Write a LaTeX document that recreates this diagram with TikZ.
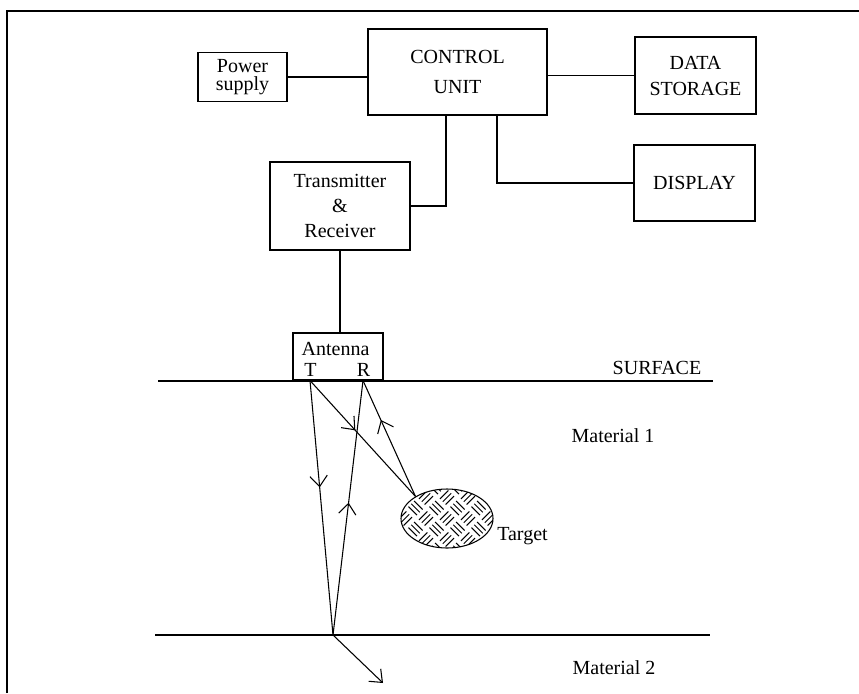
\documentclass[tikz,border=0pt]{standalone}
\usepackage{fontspec}
\setmainfont{Liberation Serif}
\usetikzlibrary{arrows.meta,calc,decorations.markings,shapes.geometric}

\begin{document}
\begin{tikzpicture}[x=0.75pt,y=-0.75pt,
    font=\fontsize{15}{18}\selectfont,
    block/.style={draw, line width=0.8pt, inner sep=0pt, align=center},
    ray/.style={line width=0.8pt},
    barb/.style={-{Straight Barb[length=8pt,width=13pt]}},
    midarrow/.style={postaction={decorate}, decoration={markings,
        mark=at position #1 with {\arrow{Straight Barb[length=8pt,width=13pt]}}}}]
  \useasboundingbox (0,0) rectangle (859,693);
  % frame
  \draw[line width=1pt] (7,693) -- (7,11) -- (859,11);
  % blocks
  \node[block, minimum width=66.75pt, minimum height=36.75pt,
        font=\fontsize{15}{13.5}\selectfont] (power) at (242.5,77) {Power\\supply};
  \node[block, minimum width=134.25pt, minimum height=64.5pt,
        font=\fontsize{15}{22.5}\selectfont] (control) at (457.5,72) {CONTROL\\UNIT};
  \node[block, minimum width=90.75pt, minimum height=57.75pt,
        font=\fontsize{15}{19.5}\selectfont] (data) at (695.5,75.5) {DATA\\STORAGE};
  \node[block, minimum width=90.75pt, minimum height=57pt] (display) at (694.5,183) {DISPLAY};
  \node[block, minimum width=105pt, minimum height=66pt,
        font=\fontsize{15}{18.75}\selectfont] (trx) at (340,206) {Transmitter\\\&\\Receiver};
  \node[block, minimum width=67.5pt, minimum height=35.25pt] (ant) at (338,356.5) {};
  \node[anchor=base] (antlab) at (335.5,355) {Antenna};
  \node[anchor=base] (tlab) at (310.5,376) {T};
  \node[anchor=base] (rlab) at (363.5,376) {R};
  % links
  \draw[line width=0.8pt] (power.east) -- (power.east -| control.west);
  \draw[line width=0.8pt] (data.west -| control.east) -- (data.west);
  \draw[line width=0.8pt] ($(control.south)+(39.5,0)$) |- (display.west);
  \draw[line width=0.8pt] ($(control.south)+(-11.5,0)$) |- (trx.east);
  \draw[line width=0.8pt] (trx.south) -- (trx.south |- ant.north);
  % ground
  \coordinate (sl) at (158,381);
  \coordinate (sr) at (713,381);
  \coordinate (bl) at (155,635);
  \coordinate (br) at (710,635);
  \draw[line width=1.9pt] (sl) -- (sr);
  \draw[line width=1pt] (bl) -- (br);
  \node[anchor=base] (surf) at (657,374) {SURFACE};
  \node[anchor=base] (mat1) at (613,442) {Material 1};
  \node[anchor=base] (mat2) at (614,674) {Material 2};
  % target
  \node[draw, ellipse, line width=0.8pt, inner sep=0pt, minimum width=69pt,
        minimum height=44.25pt] (target) at (447,518.5) {};
  \begin{scope}
    \clip (target.center) ellipse [x radius=46, y radius=29.5];
    \foreach \i in {-4,...,4}
      \foreach \j in {-4,...,4}{
        \pgfmathsetmacro\ang{mod(\i+\j+20,2)==0 ? 45 : -45}
        \begin{scope}[shift={($(target.center)+(\i*10.5+\j*10.5,\i*10.5-\j*10.5)$)}, rotate=\ang]
          \foreach \k in {-4,0,4}
            \draw[line width=0.75pt] (-6,\k) -- (6,\k);
        \end{scope}
      }
  \end{scope}
  \node[anchor=base west, inner sep=0pt] (tgtlab) at (497,540) {Target};
  % rays
  \coordinate (tx) at ($(ant.south)+(-28,0)$);
  \coordinate (rx) at ($(ant.south)+(25,0)$);
  \coordinate (refl) at (333,635);
  \coordinate (trans) at (383,683);
  \draw[ray, midarrow=0.42] (tx) -- (refl);
  \draw[ray, midarrow=0.52] (refl) -- (rx);
  \draw[ray, barb] (refl) -- (trans);
  \draw[ray, midarrow=0.43] (tx) -- (target.145);
  \draw[ray, midarrow=0.66] (target.145) -- (rx);
\end{tikzpicture}
\end{document}
